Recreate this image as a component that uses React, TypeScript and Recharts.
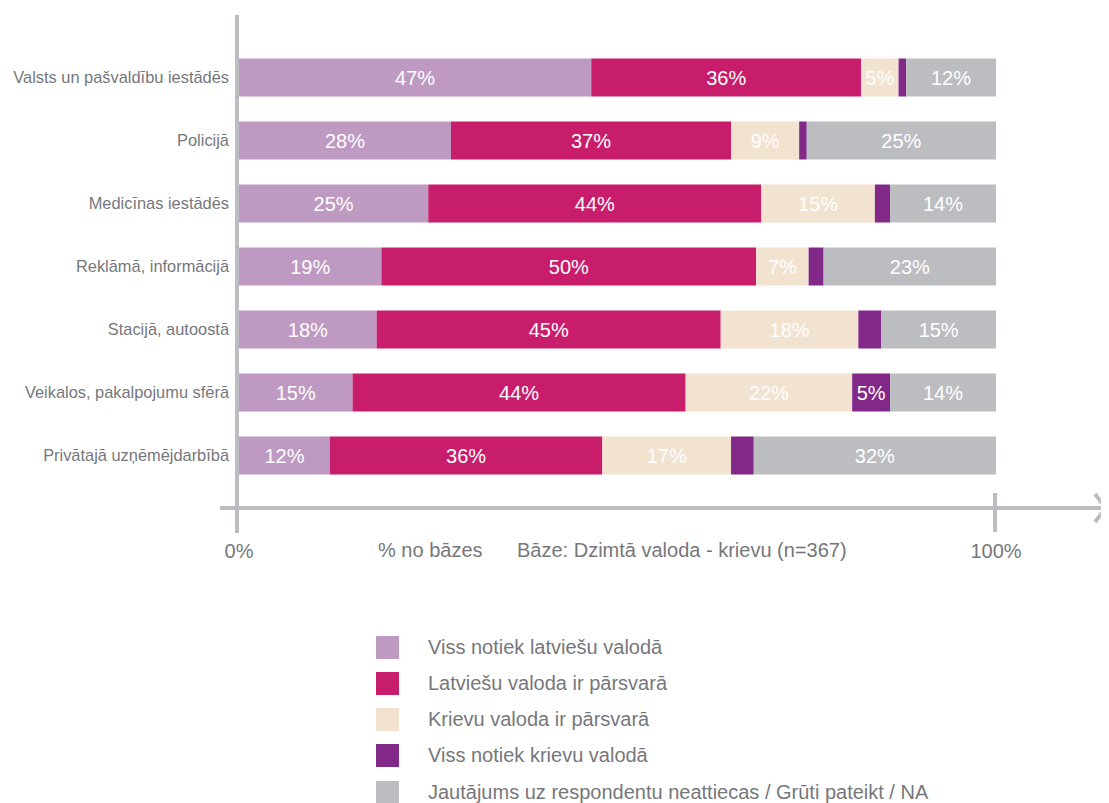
import {Bar, BarChart, LabelList, XAxis, YAxis} from 'recharts';

const categories = [
    'Valsts un pašvaldību iestādēs',
    'Policijā',
    'Medicīnas iestādēs',
    'Reklāmā, informācijā',
    'Stacijā, autoostā',
    'Veikalos, pakalpojumu sfērā',
    'Privātajā uzņēmējdarbībā',
];
const latvianAll = [47, 28, 25, 19, 18, 15, 12];
const latvianMostly = [36, 37, 44, 50, 45, 44, 36];
const russianMostly = [5, 9, 15, 7, 18, 22, 17];
const russianAll = [1, 1, 2, 2, 3, 5, 3];
const notApplicable = [12, 25, 14, 23, 15, 14, 32];

const seriesNames = [
    'Viss notiek latviešu valodā',
    'Latviešu valoda ir pārsvarā',
    'Krievu valoda ir pārsvarā',
    'Viss notiek krievu valodā',
    'Jautājums uz respondentu neattiecas / Grūti pateikt / NA',
];
const seriesKeys = ['latvianAll', 'latvianMostly', 'russianMostly', 'russianAll', 'notApplicable'];
const seriesColors = ['#BE9AC3', '#C71D6B', '#F2E2D0', '#822888', '#BCBDC1'];
const xTicks = [0, 1];

const data = categories.map((name, i) => ({
    name,
    latvianAll: latvianAll[i],
    latvianMostly: latvianMostly[i],
    russianMostly: russianMostly[i],
    russianAll: russianAll[i],
    notApplicable: notApplicable[i],
}));

const FONT = '"Liberation Sans", Arial, Helvetica, sans-serif';
const TEXT = '#76777C';
const AXIS = '#BCBDC1';

export default function App() {
    return (
        <div style={{position: 'relative', width: 1101, height: 795, fontFamily: FONT}}>
            <BarChart
                width={1101}
                height={795}
                data={data}
                layout="vertical"
                stackOffset="expand"
                margin={{top: 37.5, right: 113, left: 0, bottom: 256.5}}
            >
                <XAxis
                    type="number"
                    domain={[0, 1]}
                    ticks={xTicks}
                    height={60}
                    axisLine={false}
                    tickLine={false}
                    tickMargin={51}
                    tickFormatter={(v: number) => `${Math.round(v * 100)}%`}
                    tick={{fill: TEXT, fontSize: 20, fontFamily: FONT}}
                />
                <YAxis
                    type="category"
                    dataKey="name"
                    width={231}
                    axisLine={false}
                    tickLine={false}
                    tickSize={0}
                    tickMargin={10}
                    tick={{fill: TEXT, fontSize: 16.4, fontFamily: FONT}}
                />
                {seriesKeys.map((key, i) => (
                    <Bar
                        key={key}
                        dataKey={key}
                        name={seriesNames[i]}
                        stackId="a"
                        fill={seriesColors[i]}
                        barSize={38}
                        isAnimationActive={false}
                    >
                        <LabelList
                            dataKey={key}
                            position="center"
                            fill="#FFFFFF"
                            fontSize={20}
                            fontFamily={FONT}
                            formatter={(v: number) => (v >= 5 ? `${v}%` : '')}
                        />
                    </Bar>
                ))}
            </BarChart>

            <svg
                width={1101}
                height={795}
                style={{position: 'absolute', left: 0, top: 0, pointerEvents: 'none'}}
            >
                <line x1={229} y1={7} x2={229} y2={525} stroke={AXIS} strokeWidth={4}/>
                <line x1={212} y1={500} x2={1097} y2={500} stroke={AXIS} strokeWidth={4}/>
                <line x1={987} y1={485} x2={987} y2={524} stroke={AXIS} strokeWidth={4}/>
                <polyline points="1087,486 1098,500 1087,514" fill="none" stroke={AXIS} strokeWidth={4}/>
                <text x={370} y={549} fill={TEXT} fontSize={20} fontFamily={FONT}>% no bāzes</text>
                <text x={509} y={549} fill={TEXT} fontSize={20} fontFamily={FONT}>
                    Bāze: Dzimtā valoda - krievu (n=367)
                </text>
            </svg>

            <div style={{position: 'absolute', left: 368, top: 621}}>
                {seriesNames.map((name, i) => (
                    <div key={name} style={{display: 'flex', alignItems: 'center', height: 36.25}}>
                        <div style={{width: 23, height: 23, background: seriesColors[i]}}/>
                        <span style={{marginLeft: 29, fontSize: 20, color: TEXT, whiteSpace: 'nowrap'}}>{name}</span>
                    </div>
                ))}
            </div>
        </div>
    );
}
